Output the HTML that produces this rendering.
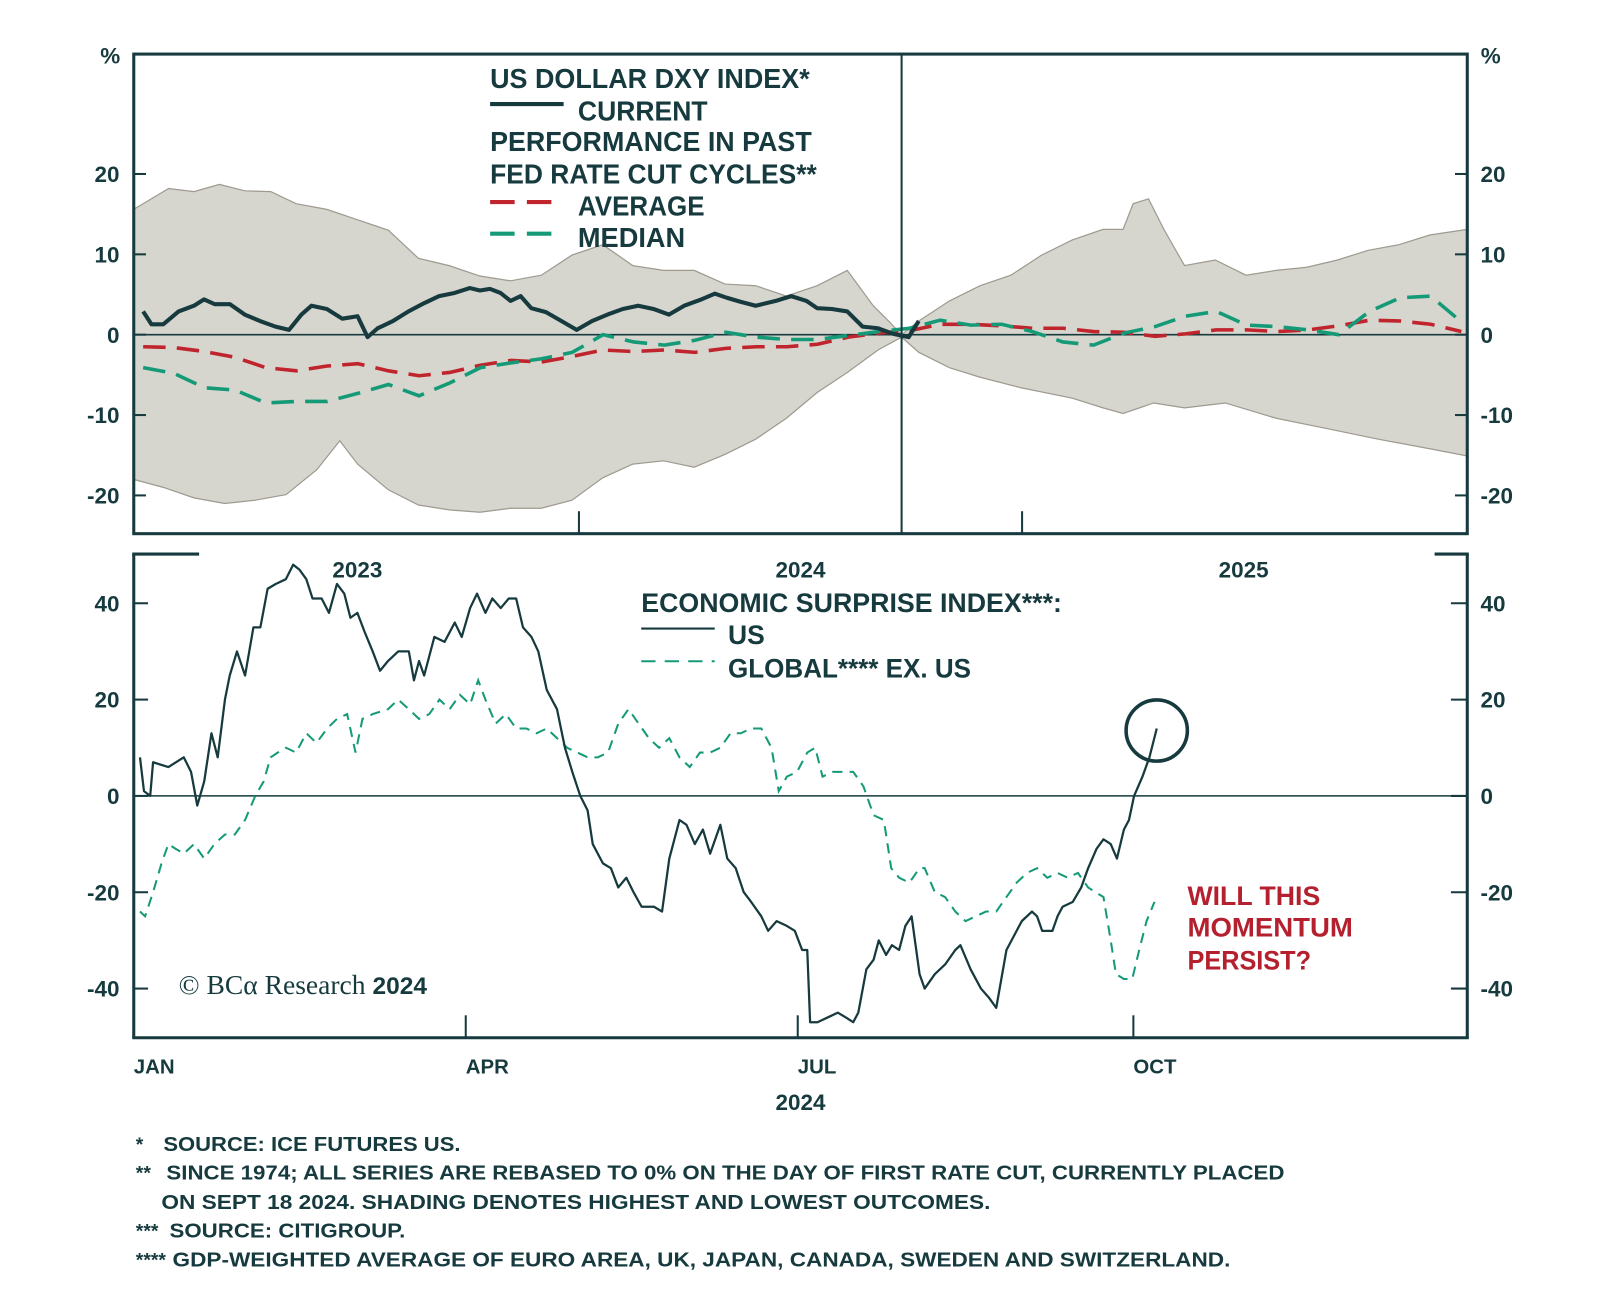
<!DOCTYPE html>
<html><head><meta charset="utf-8">
<style>
html,body{margin:0;padding:0;background:#fff;}
svg{display:block;}
.t{font-family:"Liberation Sans",sans-serif;font-weight:bold;fill:#163a3e;}
.n{font-family:"Liberation Sans Narrow","Liberation Sans",sans-serif;font-weight:bold;fill:#163a3e;}
</style></head>
<body>
<svg id="chart" width="1600" height="1300" viewBox="0 0 1567 1274" preserveAspectRatio="none" xmlns="http://www.w3.org/2000/svg">
<g id="topPanel"></g>
<g id="botPanel"></g>
<g>
<text class="n" x="480" y="86" font-size="27" textLength="313" lengthAdjust="spacingAndGlyphs">US DOLLAR DXY INDEX*</text>
<line x1="480" y1="102" x2="552" y2="102" stroke="#163a3e" stroke-width="4"/>
<text class="n" x="566" y="118" font-size="27" textLength="127" lengthAdjust="spacingAndGlyphs">CURRENT</text>
<text class="n" x="480" y="148" font-size="27" textLength="315" lengthAdjust="spacingAndGlyphs">PERFORMANCE IN PAST</text>
<text class="n" x="480" y="180" font-size="27" textLength="320" lengthAdjust="spacingAndGlyphs">FED RATE CUT CYCLES**</text>
<line x1="480" y1="198" x2="552" y2="198" stroke="#c0242c" stroke-width="4" stroke-dasharray="24 12"/>
<text class="n" x="566" y="211" font-size="27" textLength="124" lengthAdjust="spacingAndGlyphs">AVERAGE</text>
<line x1="480" y1="229" x2="552" y2="229" stroke="#159a78" stroke-width="4" stroke-dasharray="24 12"/>
<text class="n" x="566" y="242" font-size="27" textLength="105" lengthAdjust="spacingAndGlyphs">MEDIAN</text>
</g>
<g>
<text class="n" x="628" y="600" font-size="26" textLength="412" lengthAdjust="spacingAndGlyphs">ECONOMIC SURPRISE INDEX***:</text>
<line x1="628" y1="616" x2="700" y2="616" stroke="#163a3e" stroke-width="2"/>
<text class="n" x="713" y="631" font-size="26" textLength="36" lengthAdjust="spacingAndGlyphs">US</text>
<line x1="628" y1="648" x2="700" y2="648" stroke="#159a78" stroke-width="2" stroke-dasharray="14 9"/>
<text class="n" x="713" y="664" font-size="26" textLength="238" lengthAdjust="spacingAndGlyphs">GLOBAL**** EX. US</text>
</g>
<g font-family="Liberation Sans Narrow, Liberation Sans, sans-serif" font-weight="bold" font-size="26" fill="#b5202e">
<text x="1163" y="887" textLength="130" lengthAdjust="spacingAndGlyphs">WILL THIS</text>
<text x="1163" y="918" textLength="162" lengthAdjust="spacingAndGlyphs">MOMENTUM</text>
<text x="1163" y="950" textLength="121" lengthAdjust="spacingAndGlyphs">PERSIST?</text>
</g>
<g>
<text x="175" y="974" font-family="Liberation Serif, serif" font-size="27" fill="#163a3e">© BCα Research <tspan font-family="Liberation Sans, sans-serif" font-weight="bold" font-size="24">2024</tspan></text>
</g>
<g>
<text class="t" x="133" y="1128" font-size="19">*</text>
<text class="t" x="160" y="1128" font-size="20" textLength="291" lengthAdjust="spacingAndGlyphs">SOURCE: ICE FUTURES US.</text>
<text class="t" x="133" y="1156" font-size="19">**</text>
<text class="t" x="163" y="1156" font-size="20" textLength="1095" lengthAdjust="spacingAndGlyphs">SINCE 1974; ALL SERIES ARE REBASED TO 0% ON THE DAY OF FIRST RATE CUT, CURRENTLY PLACED</text>
<text class="t" x="158" y="1185" font-size="20" textLength="812" lengthAdjust="spacingAndGlyphs">ON SEPT 18 2024. SHADING DENOTES HIGHEST AND LOWEST OUTCOMES.</text>
<text class="t" x="133" y="1213" font-size="19">***</text>
<text class="t" x="166" y="1213" font-size="20" textLength="231" lengthAdjust="spacingAndGlyphs">SOURCE: CITIGROUP.</text>
<text class="t" x="133" y="1241" font-size="19">****</text>
<text class="t" x="169" y="1241" font-size="20" textLength="1036" lengthAdjust="spacingAndGlyphs">GDP-WEIGHTED AVERAGE OF EURO AREA, UK, JAPAN, CANADA, SWEDEN AND SWITZERLAND.</text>
</g>
</svg>
<script>
// ---------- TOP PANEL DATA (days relative to first rate cut, % change) ----------
const upperDays=[-130,-124.1,-119.8,-115.5,-111.2,-106.8,-102.5,-97.3,-92.1,-86.9,-81.8,-76.6,-71.4,-66.2,-61,-55.8,-50.6,-45.5,-40.3,-35.1,-29.9,-24.7,-19.5,-14.3,-9.2,-4.8,-2.2,0,2.9,8.1,13.3,18.5,23.7,28.9,34.1,37.5,39.2,41.8,44.4,47.9,53.1,58.3,63.4,68.6,73.8,79,84.2,89.4,95.8];
const upperVals=[15.6,18.2,17.8,18.7,17.9,17.8,16.3,15.6,14.3,13,9.5,8.6,7.3,6.7,7.4,9.9,11.2,8.6,8,8,6.3,6.1,4.8,6.1,8,3.6,1.7,0,1.7,4.2,6.1,7.4,9.9,11.8,13.1,13.1,16.3,16.9,13.1,8.6,9.3,7.4,8,8.4,9.3,10.5,11.2,12.4,13.1];
const lowerDays=[-130,-125,-119.8,-114.6,-109.4,-104.2,-99,-95.1,-92.1,-86.9,-81.8,-76.6,-71.4,-66.2,-61,-55.8,-50.6,-45.5,-40.3,-35.1,-29.9,-24.7,-19.5,-14.3,-9.2,-4,0,2.9,8.1,13.3,20.2,28.9,34.1,37.5,42.7,47.9,54.8,63.4,72.1,80.7,89.4,95.8];
const lowerVals=[-18,-19,-20.3,-21,-20.6,-19.9,-16.8,-13.2,-16.1,-19.3,-21.2,-21.8,-22.1,-21.6,-21.6,-20.6,-17.8,-16.1,-15.7,-16.5,-14.9,-13,-10.4,-7.2,-4.7,-1.9,-0.3,-2.2,-4.1,-5.3,-6.6,-7.9,-9.1,-9.8,-8.5,-9.1,-8.5,-10.4,-11.7,-13,-14.2,-15.1];
const currentDays=[-128.4,-127,-125,-122.4,-119.8,-118.1,-116.3,-113.7,-111.2,-108.6,-106,-103.7,-101.6,-99.9,-97.3,-94.7,-92.1,-90.4,-88.7,-86.1,-83.5,-80.9,-78.3,-75.7,-73.1,-71.4,-69.7,-67.9,-66.2,-64.5,-62.7,-60.2,-57.6,-55,-52.4,-49.8,-47.2,-44.6,-42,-39.4,-36.8,-34.2,-31.6,-29.6,-27.3,-24.7,-21.3,-18.7,-16.1,-14.3,-11.8,-9.2,-6.6,-4,-1.4,1.2,2.9];
const currentVals=[2.9,1.3,1.3,2.9,3.6,4.4,3.8,3.8,2.5,1.7,1,0.6,2.5,3.6,3.2,2,2.3,-0.3,0.8,1.7,2.9,3.9,4.8,5.2,5.8,5.5,5.7,5.2,4.2,4.8,3.3,2.8,1.7,0.6,1.7,2.5,3.2,3.6,3.2,2.5,3.6,4.3,5.1,4.6,4.1,3.6,4.2,4.8,4.2,3.3,3.2,2.9,1,0.8,0.1,-0.3,1.7];
const avgStart=-128.4, avgStep=5.19;
const averageVals=[-1.5,-1.6,-2.1,-2.8,-4.1,-4.5,-3.9,-3.6,-4.5,-5.1,-4.7,-3.8,-3.2,-3.4,-2.7,-1.9,-2.1,-1.9,-2.2,-1.7,-1.5,-1.5,-1.2,-0.3,0.2,0.5,1.3,1.3,1.1,0.8,0.8,0.4,0.3,-0.2,0.1,0.6,0.6,0.4,0.6,1.1,1.8,1.7,1.3,0.4];
const medianVals=[-4.1,-4.8,-6.6,-6.9,-8.5,-8.3,-8.3,-7.3,-6.2,-7.6,-6.0,-4.1,-3.5,-3.0,-2.2,0.0,-0.9,-1.3,-0.7,0.3,-0.3,-0.6,-0.6,-0.1,0.4,0.8,1.8,1.2,1.3,0.4,-0.9,-1.3,0.2,1.0,2.3,2.9,1.2,1.0,0.6,0.0,2.9,4.6,4.8,1.6];
const topTicks=[20,10,0,-10,-20];
const topTickLabels=["20","10","0","-10","-20"];

// ---------- BOTTOM PANEL DATA (day of year 2024, index level) ----------
const usDays=[1.7,2.8,4.5,5.3,9.5,13.7,15.7,17.4,19.3,21.3,23,25,26.3,28.3,30.5,32.8,34.7,36.7,38.9,41.7,43.7,45.4,47.3,49,51.5,53.5,55.7,57.7,59.4,61.3,63.3,65.5,67.5,69.7,72.5,75.4,76.8,78.2,79.6,82.4,85.2,88,89.9,92.2,94.1,96.4,98.3,100.6,102.8,104.8,106.7,109,110.9,113.2,116,118.2,120.2,122.4,124.4,125.8,128.6,130.8,132.8,135,137,139.2,142.6,144.8,146.8,149.6,151.5,153.8,156,158,160.8,162.7,165,167.2,169.2,172,173.9,176.2,179,181.2,183.2,184.6,185.4,187.4,190.2,193,195.2,197.2,198.6,200.8,202.8,204.2,206.2,207.8,209.8,211.5,213.2,215.4,216.8,219.6,222.4,225.2,226.6,229.4,232.2,234.5,236.4,239.2,240.6,243.4,246.2,247.6,249,251.8,253.2,254.6,257.4,259.7,261.6,263.9,265.8,267.8,269.5,271.4,272.8,274.2,276.5,278.4,280.4];
const usVals=[8,1,0,7,6,8,5,-2,3,13,8,20,25,30,25,35,35,43,44,45,48,47,45,41,41,38,44,42,37,38,34,30,26,28,30,30,24,28,25,33,32,36,33,39,42,38,41,39,41,41,35,33,30,22,18,10,5,0,-3,-10,-14,-15,-19,-17,-20,-23,-23,-24,-13,-5,-6,-10,-7,-12,-6,-13,-15,-20,-22,-25,-28,-26,-27,-28,-32,-32,-47,-47,-46,-45,-46,-47,-45,-36,-34,-30,-33,-31,-32,-27,-25,-37,-40,-37,-35,-32,-31,-36,-40,-42,-44,-32,-30,-26,-24,-25,-28,-28,-25,-23,-22,-19,-15,-11,-9,-10,-13,-7,-5,0,4,8,14];
const globalDays=[1.7,3.1,5.3,7.6,9.5,11.5,13.7,16.5,19.3,22.1,25,27.7,30.5,33.3,35.6,37.5,39.5,41.7,44.5,47.3,50.1,53,55.7,58.5,60.8,62.7,65.5,69.7,72.5,75.4,78.2,81,83.8,86.6,89.4,92.2,94.4,96.4,99.2,102,104.8,107.6,110.4,113.2,116,118.8,121.6,124.4,127.2,130,132.8,135.6,138.4,141.2,144,146.8,149.6,152.4,155.2,158,160.8,163.6,166.4,169.2,172,174.8,176.8,179,181.8,184.6,186.8,188.8,191.6,194.4,197.2,200,202.8,205.6,207.6,209.8,212.6,215.4,216.8,219.6,222.4,225.2,228,230.8,233.6,236.4,239.2,242,244.8,247.6,250.4,253.2,256,258.8,261.6,263.6,265.8,267.8,269.2,271.4,273.7,275.6,277.6,279.8];
const globalVals=[-24,-25,-20,-14,-10,-11,-12,-10,-13,-10,-8,-8,-5,0,3,8,9,10,9,13,11,14,16,17,9,16,17,18,20,18,16,17,20,18,21,19,24,20,15,17,14,14,13,14,12,10,9,8,8,9,15,18,15,12,10,12,8,6,9,9,10,13,13,14,14,10,1,4,5,9,10,4,5,5,5,2,-4,-5,-15,-17,-18,-15,-15,-20,-21,-24,-26,-25,-24,-24,-21,-18,-16,-15,-17,-16,-17,-16,-19,-20,-21,-30,-37,-38,-38,-32,-26,-22];
const botTicks=[40,20,0,-20,-40];
const botTickLabels=["40","20","0","-20","-40"];
const monthDays=[0,91,182,274];
const monthLabels=["JAN","APR","JUL","OCT"];
const yearLabels=["2023","2024","2025"];

// ---------- AXIS FUNCTIONS ----------
const TL=131,TR=1437,TT=53,TB=523;
const tx=d=>883+d*5.785;
const ty=v=>328-v*7.875;
const BT=543,BB=1017;
const bx=d=>131+d*3.573;
const by=v=>780-v*4.72;

const NS="http://www.w3.org/2000/svg";
function mk(tag,attrs,parent){const e=document.createElementNS(NS,tag);for(const k in attrs)e.setAttribute(k,attrs[k]);parent.appendChild(e);return e;}
function pathOf(xs,ys,fx,fy){return xs.map((d,i)=>(i?"L":"M")+fx(d).toFixed(1)+","+fy(ys[i]).toFixed(1)).join("");}

const topG=document.getElementById('topPanel');
let bandD=pathOf(upperDays,upperVals,tx,ty);
for(let i=lowerDays.length-1;i>=0;i--) bandD+="L"+tx(lowerDays[i]).toFixed(1)+","+ty(lowerVals[i]).toFixed(1);
bandD+="Z";
const band=mk('path',{d:bandD,fill:'#d6d5ce',stroke:'#9e9a90','stroke-width':1.2},topG);


const z1=mk('line',{x1:TL,x2:TR,y1:ty(0),y2:ty(0),stroke:'#163a3e','stroke-width':1.5},topG);


const avgDays=averageVals.map((v,i)=>avgStart+i*avgStep);
const avg=mk('path',{d:pathOf(avgDays,averageVals,tx,ty),fill:'none',stroke:'#c0242c','stroke-width':3.5,'stroke-dasharray':'22 11'},topG);


const med=mk('path',{d:pathOf(avgDays,medianVals,tx,ty),fill:'none',stroke:'#159a78','stroke-width':3.5,'stroke-dasharray':'22 11'},topG);


const cur=mk('path',{d:pathOf(currentDays,currentVals,tx,ty),fill:'none',stroke:'#163a3e','stroke-width':4,'stroke-linejoin':'round'},topG);


const cut=mk('line',{x1:tx(0),x2:tx(0),y1:TT,y2:TB,stroke:'#163a3e','stroke-width':2},topG);


const tf=mk('rect',{x:TL,y:TT,width:TR-TL,height:TB-TT,fill:'none',stroke:'#163a3e','stroke-width':3},topG);


topTicks.forEach((v,i)=>{
  mk('line',{x1:TL,x2:TL+12,y1:ty(v),y2:ty(v),stroke:'#163a3e','stroke-width':2},topG);
  mk('line',{x1:TR-12,x2:TR,y1:ty(v),y2:ty(v),stroke:'#163a3e','stroke-width':2},topG);
  const a=mk('text',{x:117,y:ty(v)+8,'text-anchor':'end','font-size':22,class:'t'},topG);a.textContent=topTickLabels[i];
  
  
  const b=mk('text',{x:1450,y:ty(v)+8,'font-size':22,class:'t'},topG);b.textContent=topTickLabels[i];
  
  
});
[567,1001].forEach(x=>mk('line',{x1:x,x2:x,y1:TB,y2:TB-22,stroke:'#163a3e','stroke-width':2},topG));
const p1=mk('text',{x:108,y:62,'text-anchor':'middle','font-size':22,class:'t'},topG);p1.textContent='%';


const p2=mk('text',{x:1460,y:62,'text-anchor':'middle','font-size':22,class:'t'},topG);p2.textContent='%';



const botG=document.getElementById('botPanel');
const z2=mk('line',{x1:TL,x2:TR,y1:by(0),y2:by(0),stroke:'#163a3e','stroke-width':1.5},botG);


const gl=mk('path',{d:pathOf(globalDays,globalVals,bx,by),fill:'none',stroke:'#159a78','stroke-width':2,'stroke-dasharray':'10 7'},botG);


const us=mk('path',{d:pathOf(usDays,usVals,bx,by),fill:'none',stroke:'#163a3e','stroke-width':2.2,'stroke-linejoin':'round'},botG);


const lastI=usDays.length-1;
const circ=mk('circle',{cx:bx(usDays[lastI]),cy:by(usVals[lastI])+2,r:30,fill:'none',stroke:'#163a3e','stroke-width':3.5},botG);


mk('line',{x1:TL,x2:TL,y1:BT,y2:BB,stroke:'#163a3e','stroke-width':3},botG);
mk('line',{x1:TR,x2:TR,y1:BT,y2:BB,stroke:'#163a3e','stroke-width':3},botG);
mk('line',{x1:TL-1.5,x2:TR+1.5,y1:BB,y2:BB,stroke:'#163a3e','stroke-width':3},botG);
mk('line',{x1:TL-1.5,x2:195,y1:BT,y2:BT,stroke:'#163a3e','stroke-width':3},botG);
mk('line',{x1:1405,x2:TR+1.5,y1:BT,y2:BT,stroke:'#163a3e','stroke-width':3},botG);
botTicks.forEach((v,i)=>{
  mk('line',{x1:TL,x2:TL+14,y1:by(v),y2:by(v),stroke:'#163a3e','stroke-width':2},botG);
  mk('line',{x1:TR-16,x2:TR,y1:by(v),y2:by(v),stroke:'#163a3e','stroke-width':2},botG);
  const a=mk('text',{x:117,y:by(v)+8,'text-anchor':'end','font-size':22,class:'t'},botG);a.textContent=botTickLabels[i];
  
  
  const b=mk('text',{x:1450,y:by(v)+8,'font-size':22,class:'t'},botG);b.textContent=botTickLabels[i];
  
  
});
monthDays.forEach((d,i)=>{
  if(i>0) mk('line',{x1:bx(d),x2:bx(d),y1:BB,y2:BB-22,stroke:'#163a3e','stroke-width':2},botG);
  const m=mk('text',{x:bx(d),y:1052,'font-size':20,class:'t'},botG);m.textContent=monthLabels[i];
  
  
});
const yr=mk('text',{x:784,y:1088,'text-anchor':'middle','font-size':22,class:'t'},botG);yr.textContent='2024';


[350,784,1218].forEach((x,i)=>{
  const y=mk('text',{x:x,y:566,'text-anchor':'middle','font-size':22,class:'t'},botG);y.textContent=yearLabels[i];
  
  
});
</script>
</body></html>
